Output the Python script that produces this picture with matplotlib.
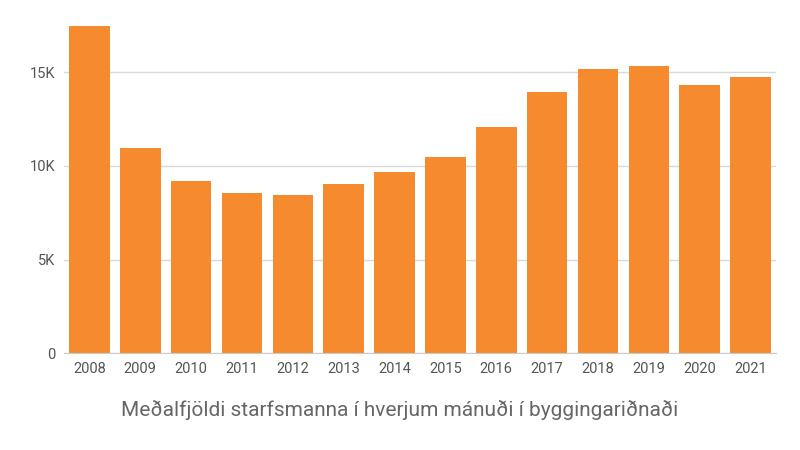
import matplotlib.pyplot as plt
from matplotlib.ticker import FuncFormatter

years = ["2008", "2009", "2010", "2011", "2012", "2013", "2014",
         "2015", "2016", "2017", "2018", "2019", "2020", "2021"]
workers = [17470, 10930, 9180, 8570, 8460, 9010, 9670,
           10490, 12090, 13960, 15160, 15330, 14290, 14730]

plt.rcParams['font.family'] = ['Roboto', 'DejaVu Sans']
fig = plt.figure(figsize=(8, 4.5), dpi=100)
ax = fig.add_axes([0.08, 0.215, 0.89, 0.75])

ax.bar(range(len(years)), workers, width=0.8, color="#f58b2e", zorder=2)
ax.set_xlim(-0.5, len(years) - 0.5)
ax.set_ylim(0, 18000)
ax.set_yticks([0, 5000, 10000, 15000])
ax.yaxis.set_major_formatter(FuncFormatter(lambda v, p: "0" if v == 0 else f"{v/1000:.0f}K"))
ax.set_xticks(range(len(years)))
ax.set_xticklabels(years)
ax.grid(axis="y", color="#d9d9d9", linewidth=1, zorder=0)
for s in ["top", "right", "left"]:
    ax.spines[s].set_visible(False)
ax.spines["bottom"].set_color("#cccccc")
ax.tick_params(axis="both", length=0, labelsize=10.5, colors="#555555", pad=6)

fig.text(0.5, 0.075, "Meðalfjöldi starfsmanna í hverjum mánuði í byggingariðnaði",
         ha="center", fontsize=15, color="#666666")

fig.savefig("out.png")
